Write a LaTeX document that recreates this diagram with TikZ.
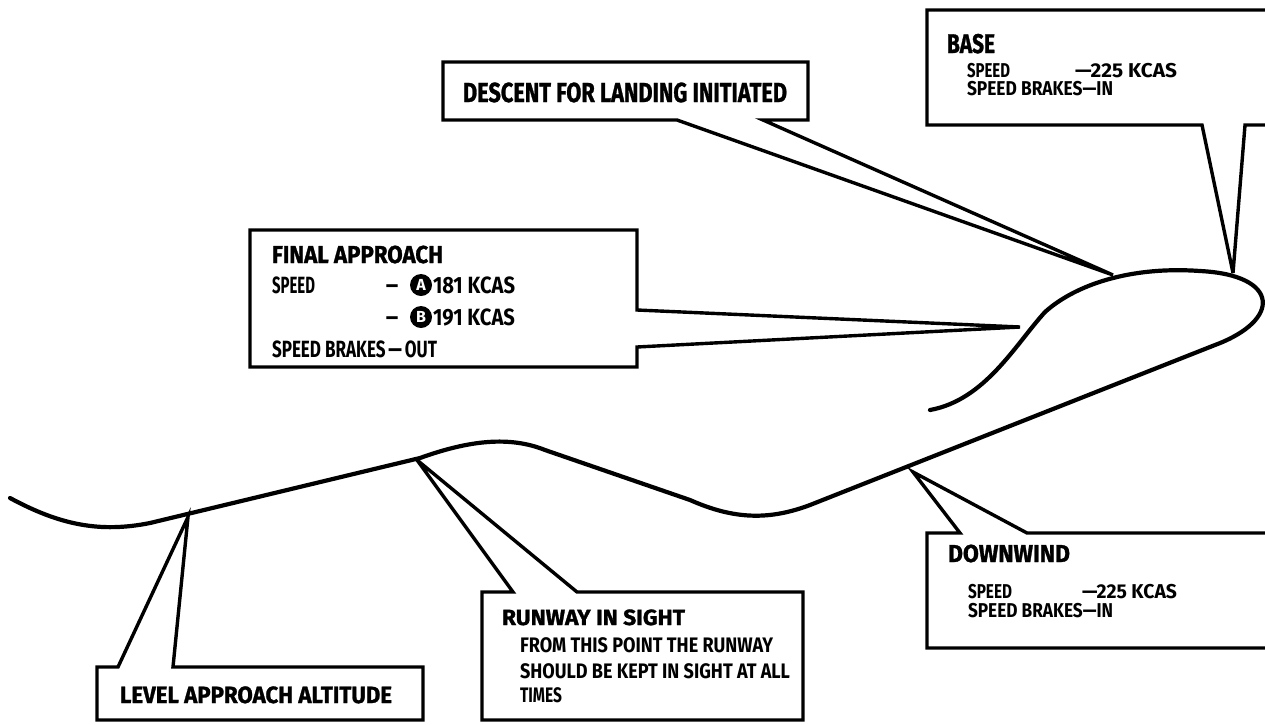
\documentclass[tikz,border=0pt]{standalone}
\usepackage{fontspec}
\usepackage{graphicx}
\setmainfont{Fira Sans}
\newfontfamily\headfam{Fira Sans}[BoldFeatures={FakeBold=1.2}]
\newcommand\fw[2]{\resizebox{#1pt}{\height}{#2}}
\newcommand\hdf[1]{\headfam\fontsize{#1}{#1}\selectfont\bfseries}
\newcommand\bdf[1]{\fontsize{#1}{#1}\selectfont\bfseries}
\tikzset{
  txt/.style={anchor=base west, inner sep=0pt, outer sep=0pt},
  callout/.style={draw=black, line width=3.4pt, line join=miter, miter limit=6},
  flight/.style={draw=black, line width=4.2pt, line cap=round},
  letterdot/.style={circle, fill=black, text=white, inner sep=0pt, minimum size=22pt, font=\bdf{16}},
}
\begin{document}
\begin{tikzpicture}[x=1pt, y=-1pt]
\useasboundingbox (0,0) rectangle (1265,724);
\fill[white] (0,0) rectangle (1265,724);
\clip (0,0) rectangle (1265,724);

% flight path
\draw[flight] (10,498) .. controls (60,525) and (100,533) .. (150,523)
  -- (420,458) .. controls (470,440) and (510,436) .. (545,450)
  -- (690,500) .. controls (735,520) and (770,520) .. (810,505)
  -- (1215,345) .. controls (1282,320) and (1280,275) .. (1200,271)
  .. controls (1130,266) and (1075,285) .. (1045,312)
  .. controls (1015,345) and (985,400) .. (930,410);

% pointer tips on the path
\coordinate (tipBase) at (1233,273);
\coordinate (tipDescent) at (1113,275);
\coordinate (tipFinal) at (1020,327);
\coordinate (tipDown) at (913,472);
\coordinate (tipRunway) at (417,460);
\coordinate (tipLevel) at (188,517);

% callout outlines
\draw[callout] (927,10) -- (1280,10) -- (1280,125) -- (1245,125) -- (tipBase) -- (1202,125) -- (927,125) -- cycle;
\draw[callout] (443,62) -- (808,62) -- (808,120) -- (763,120) -- (tipDescent) -- (677,120) -- (443,120) -- cycle;
\draw[callout] (250,230) -- (637,230) -- (637,310) -- (tipFinal) -- (637,347) -- (637,367) -- (250,367) -- cycle;
\draw[callout] (97,667) -- (118,667) -- (tipLevel) -- (173,667) -- (423,667) -- (423,720) -- (97,720) -- cycle;
\draw[callout] (482,592) -- (513,592) -- (tipRunway) -- (577,592) -- (803,592) -- (803,720) -- (482,720) -- cycle;
\draw[callout] (927,533) -- (960,533) -- (tipDown) -- (1027,533) -- (1280,533) -- (1280,648) -- (927,648) -- cycle;

% BASE
\node[txt, font=\hdf{27}] (baseH) at (947,53) {\fw{48}{BASE}};
\node[txt, font=\bdf{20}] (baseS) at (967,77) {\fw{43}{SPEED}};
\node[txt, font=\bdf{20}] (baseV) at (1075,77) {\fw{102}{—225 KCAS}};
\node[txt, font=\bdf{20}] (baseB) at (967,95) {\fw{146}{SPEED BRAKES—IN}};

% DESCENT
\node[txt, font=\hdf{27.5}] (descent) at (463,102) {\fw{324}{DESCENT FOR LANDING INITIATED}};

% FINAL APPROACH
\node[txt, font=\hdf{24.5}] (finalH) at (272,263) {\fw{171}{FINAL APPROACH}};
\node[txt, font=\bdf{23.5}] (finalS) at (272,293) {\fw{43}{SPEED}};
\node[txt, font=\bdf{23.5}] (dashA) at (386,293) {\fw{12}{—}};
\node[letterdot] (dotA) at (421,285) {A};
\node[txt, font=\bdf{23.5}] (speedA) at (433,293) {\fw{82}{181 KCAS}};
\node[txt, font=\bdf{23.5}] (dashB) at (386,325) {\fw{12}{—}};
\node[letterdot] (dotB) at (421,317) {B};
\node[txt, font=\bdf{23.5}] (speedB) at (433,325) {\fw{82}{191 KCAS}};
\node[txt, font=\bdf{23.5}] (finalB) at (272,357) {\fw{165}{SPEED BRAKES\,—\,OUT}};

% LEVEL APPROACH
\node[txt, font=\hdf{23.5}] (level) at (120,703) {\fw{272}{LEVEL APPROACH ALTITUDE}};

% RUNWAY IN SIGHT
\node[txt, font=\hdf{22}] (runH) at (502,625) {\fw{183}{RUNWAY IN SIGHT}};
\node[txt, font=\bdf{21}] (run1) at (520,652) {\fw{253}{FROM THIS POINT THE RUNWAY}};
\node[txt, font=\bdf{21}] (run2) at (520,678) {\fw{270}{SHOULD BE KEPT IN SIGHT AT ALL}};
\node[txt, font=\bdf{21}] (run3) at (520,702) {\fw{42}{TIMES}};

% DOWNWIND
\node[txt, font=\hdf{24.5}] (downH) at (948,562) {\fw{122}{DOWNWIND}};
\node[txt, font=\bdf{20}] (downS) at (968,598) {\fw{44}{SPEED}};
\node[txt, font=\bdf{20}] (downV) at (1082,598) {\fw{95}{—225 KCAS}};
\node[txt, font=\bdf{20}] (downB) at (968,617) {\fw{145}{SPEED BRAKES—IN}};
\end{tikzpicture}
\end{document}
